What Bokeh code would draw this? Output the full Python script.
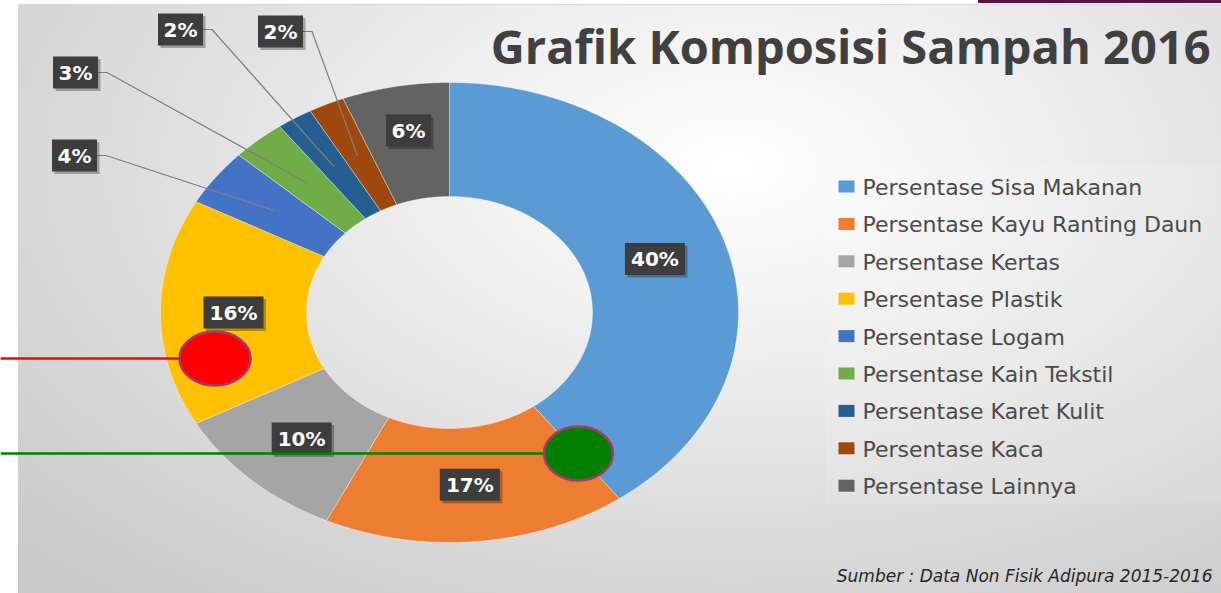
import numpy as np
from bokeh.plotting import figure
from bokeh.models import Range1d
from bokeh.core.properties import value
from bokeh.embed import file_html
from bokeh.resources import INLINE

# ---------------- data ----------------
categories = [
    "Persentase Sisa Makanan",
    "Persentase Kayu Ranting Daun",
    "Persentase Kertas",
    "Persentase Plastik",
    "Persentase Logam",
    "Persentase Kain Tekstil",
    "Persentase Karet Kulit",
    "Persentase Kaca",
    "Persentase Lainnya",
]
percent = [40, 17, 10, 16, 4, 3, 2, 2, 6]
colors = ["#5B9BD5", "#ED7D31", "#A5A5A5", "#FFC000", "#4472C4",
          "#70AD47", "#255E91", "#9E480E", "#636363"]
title_text = "Grafik Komposisi Sampah 2016"
source_text = "Sumber : Data Non Fisik Adipura 2015-2016"

# ---------------- layout (pixel space of the picture) ----------------
CX, CY = 449, 312          # donut centre
RX_OUT, RY_OUT = 289, 230  # outer radii
RX_IN, RY_IN = 143, 116    # inner radii
# manually placed label boxes (index -> centre), others sit inside the ring
label_pos = {4: (74, 155), 5: (75, 72), 6: (180, 29), 7: (280, 31), 8: (408, 130)}
leader_idx = [4, 5, 6, 7]

p = figure(width=1221, height=593, x_range=Range1d(0, 1221), y_range=Range1d(593, 0),
           output_backend="svg", toolbar_location=None, min_border=0,
           x_axis_type=None, y_axis_type=None)
p.grid.visible = False
p.outline_line_color = None
p.background_fill_alpha = 0
p.border_fill_alpha = 0
p.styles = {
    "background": "linear-gradient(#5a1048, #5a1048) right top / 243px 3px no-repeat, "
                  "linear-gradient(to right, #ffffff 18px, rgba(255,255,255,0) 18px), "
                  "linear-gradient(to bottom, #ffffff 4px, #d9d9d9 4px, #d9d9d9 5px, rgba(255,255,255,0) 5px), "
                  "radial-gradient(ellipse 80% 95% at 60% 28%, #ffffff 0%, #f0f0f0 30%, "
                  "#dddddd 62%, #c9c9c9 100%)"
}

# legend panel (slightly lighter)
p.quad(left=825, right=1221, top=165, bottom=503, fill_color="#ffffff", fill_alpha=0.12,
       line_color=None)

# ---------------- donut ----------------
total = float(sum(percent))
edges = np.concatenate([[0.0], np.cumsum(percent)]) / total * 2 * np.pi
xs, ys = [], []
for a0, a1 in zip(edges[:-1], edges[1:]):
    t = np.linspace(a0, a1, 120)
    ox = CX + RX_OUT * np.sin(t)
    oy = CY - RY_OUT * np.cos(t)
    ix = CX + RX_IN * np.sin(t[::-1])
    iy = CY - RY_IN * np.cos(t[::-1])
    xs.append(np.concatenate([ox, ix]).tolist())
    ys.append(np.concatenate([oy, iy]).tolist())
p.patches(xs, ys, fill_color=colors, line_color="#ffffff", line_width=0.8, line_alpha=0.45)

# ---------------- data labels ----------------
mid = (edges[:-1] + edges[1:]) / 2
rxm, rym = (RX_OUT + RX_IN) / 2, (RY_OUT + RY_IN) / 2
anchor_x = CX + rxm * np.sin(mid)
anchor_y = CY - rym * np.cos(mid)
labels = [f"{v}%" for v in percent]

bx, by, bw = [], [], []
for i, lab in enumerate(labels):
    if i in label_pos:
        x, y = label_pos[i]
    else:
        x, y = anchor_x[i], anchor_y[i]
    bx.append(x)
    by.append(y)
    bw.append(15 + 15 * len(lab))

# leader lines
lx, ly = [], []
for i in leader_idx:
    right = bx[i] + bw[i] / 2
    lx.append([right, right + 9, anchor_x[i]])
    ly.append([by[i], by[i], anchor_y[i]])
p.multi_line(lx, ly, line_color="#808080", line_width=1.2)

p.rect(x=[x + 2.5 for x in bx], y=[y + 2.5 for y in by], width=bw, height=32,
       fill_color="#000000", fill_alpha=0.28, line_color=None)
p.rect(x=bx, y=by, width=bw, height=32, fill_color="#3d3d3d", line_color=None)
p.text(x=bx, y=by, text=labels, text_align="center", text_baseline="middle",
       text_font=value("DejaVu Sans"), text_font_style="bold", text_font_size="20px",
       text_color="#ffffff")

# ---------------- legend ----------------
row_y = [186 + 37.4 * i for i in range(len(categories))]
p.rect(x=[846] * len(categories), y=row_y, width=16, height=12, fill_color=colors,
       line_color=None)
p.text(x=[862] * len(categories), y=[y + 1 for y in row_y], text=categories,
       text_align="left", text_baseline="middle", text_font=value("DejaVu Sans"),
       text_font_size="22px", text_color="#4a4a4a")

# ---------------- title & source ----------------
p.text(x=[1210], y=[45], text=[title_text], text_align="right", text_baseline="middle",
       text_font=value("Open Sans"), text_font_style="bold", text_font_size="47px",
       text_color="#404040")
p.text(x=[1212], y=[575], text=[source_text], text_align="right", text_baseline="middle",
       text_font=value("DejaVu Sans"), text_font_style="italic", text_font_size="17px",
       text_color="#262626")

# ---------------- hand-drawn markers ----------------
p.line(x=[0, 179], y=[358, 358], line_color="#ff0000", line_width=2.5)
p.ellipse(x=[214.5], y=[358], width=71, height=54, fill_color="#ff0000",
          line_color="#a8386a", line_width=2.5)
p.line(x=[0, 544], y=[453, 453], line_color="#008000", line_width=2.5)
p.ellipse(x=[578], y=[453], width=69, height=54, fill_color="#008000",
          line_color="#a8386a", line_width=2.5)

open("out.html", "w").write(file_html(p, INLINE))
